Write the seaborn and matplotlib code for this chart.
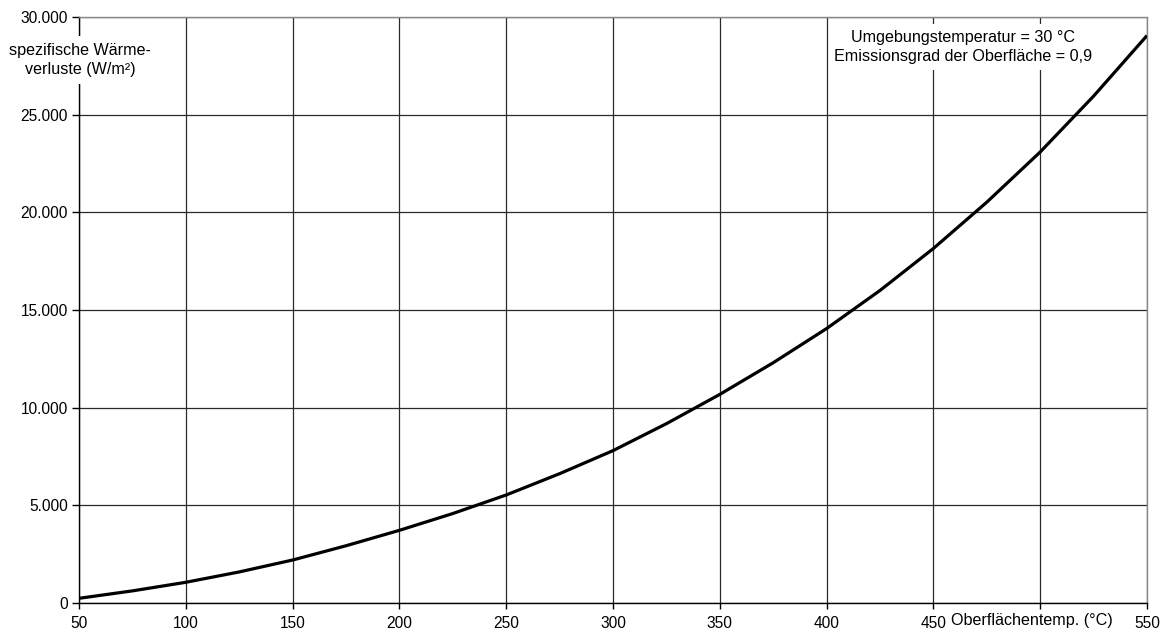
import matplotlib
matplotlib.use("Agg")
import matplotlib.pyplot as plt
import matplotlib.ticker as mticker
import pandas as pd
import seaborn as sns

# Surface temperature (°C) and specific heat loss (W/m²)
surface_temp = [50, 75, 100, 125, 150, 175, 200, 225, 250, 275, 300,
                325, 350, 375, 400, 425, 450, 475, 500, 525, 550]
heat_loss = [240, 620, 1060, 1590, 2200, 2930, 3720, 4580, 5530, 6620, 7800,
             9180, 10680, 12300, 14050, 16000, 18150, 20520, 23090, 25950, 29050]

x_ticks = [50, 100, 150, 200, 250, 300, 350, 400, 450, 500, 550]
y_ticks = [0, 5000, 10000, 15000, 20000, 25000, 30000]

y_label = "spezifische Wärme-\nverluste (W/m²)"
x_label = "Oberflächentemp. (°C)"
note = "Umgebungstemperatur = 30 °C\nEmissionsgrad der Oberfläche = 0,9"

sns.set_theme(style="white")
plt.rcParams["font.family"] = ["Liberation Sans", "DejaVu Sans"]
plt.rcParams["text.color"] = "black"
plt.rcParams["xtick.color"] = "black"
plt.rcParams["ytick.color"] = "black"

df = pd.DataFrame({"temp": surface_temp, "loss": heat_loss})

fig = plt.figure(figsize=(11.68, 6.36), dpi=100)
ax = fig.add_axes([79 / 1168, 33 / 636, 1068 / 1168, 586 / 636])

sns.lineplot(data=df, x="temp", y="loss", ax=ax, color="black", linewidth=2.3,
             zorder=4, solid_joinstyle="round", solid_capstyle="butt")

ax.set_xlim(50, 550)
ax.set_ylim(0, 30000)
ax.set_xticks(x_ticks)
ax.set_yticks(y_ticks)
ax.yaxis.set_major_formatter(
    mticker.FuncFormatter(lambda v, p: f"{int(v):,}".replace(",", ".")))
ax.set_xlabel("")
ax.set_ylabel("")

ax.grid(True, color="#2a2a2a", linewidth=0.9)
ax.set_axisbelow(True)

for side in ("left", "bottom"):
    ax.spines[side].set_color("black")
    ax.spines[side].set_linewidth(1.0)
for side in ("top", "right"):
    ax.spines[side].set_color("#888888")
    ax.spines[side].set_linewidth(1.0)

ax.tick_params(axis="y", direction="out", length=5, width=1, color="black",
               labelcolor="black", labelsize=11.2, pad=3, left=True)
ax.tick_params(axis="x", direction="out", length=4, width=1, color="black",
               labelcolor="black", labelsize=11.2, pad=5, bottom=True)

ax.text(0.001, 0.9266, y_label, transform=ax.transAxes, ha="center",
        va="center", fontsize=11.6, linespacing=1.3, color="black",
        bbox=dict(facecolor="white", edgecolor="none", pad=5),
        zorder=6, clip_on=False)

ax.text(0.828, 0.9488, note, transform=ax.transAxes, ha="center", va="center",
        fontsize=11.6, linespacing=1.35, color="black",
        bbox=dict(facecolor="white", edgecolor="none", pad=4),
        zorder=6, clip_on=False)

ax.text(0.892, -0.0307, x_label, transform=ax.transAxes, ha="center",
        va="center", fontsize=11.6, color="black",
        bbox=dict(facecolor="white", edgecolor="none", pad=1.5),
        zorder=6, clip_on=False)

fig.savefig("out.png", dpi=100)
